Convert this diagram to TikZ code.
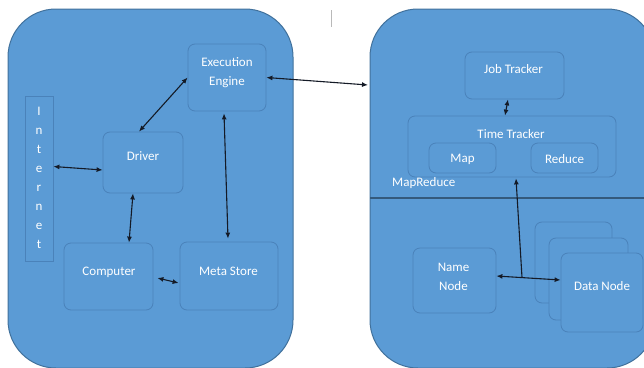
\documentclass[tikz,border=0pt]{standalone}
\usepackage{fontspec}
\setmainfont{Carlito}
\usetikzlibrary{arrows.meta,calc}
\definecolor{panelfill}{HTML}{5B9BD5}
\definecolor{paneledge}{HTML}{41719C}
\definecolor{boxedge}{HTML}{4A82BA}
\definecolor{wire}{HTML}{141A26}
\begin{document}
\begin{tikzpicture}[x=1pt,y=-1pt,
  panel/.style={draw=paneledge, line width=1pt, fill=panelfill, rounded corners=48pt,
    minimum width=285pt, minimum height=359pt, inner sep=0pt},
  box/.style={draw=boxedge, line width=0.8pt, fill=panelfill, rounded corners=7pt, inner sep=0pt},
  lbl/.style={text=white, font=\fontsize{13}{19}\selectfont, align=center, inner sep=0pt},
  dar/.style={draw=wire, line width=1.1pt, {Latex[length=6pt,width=5pt]}-{Latex[length=6pt,width=5pt]}},
  sar/.style={draw=wire, line width=1.1pt, -{Latex[length=6pt,width=5pt]}}]
\useasboundingbox (0,0) rectangle (644,367);
\clip (0,0) rectangle (644,367);

% the two large panels
\node[panel] (hive) at (150.5,188.5) {};
\node[panel] (hadoop) at (512.5,188.5) {};

% small cursor mark at the top
\draw[gray!55, line width=0.8pt] (331,10) -- (331,27);

% left panel: Hive components
\node[box, minimum width=78pt, minimum height=67pt] (exec) at (227,77.5) {};
\node[lbl] (exec-l) at (227,72.5) {Execution\\Engine};
\node[draw=boxedge, line width=0.8pt, fill=panelfill, minimum width=28pt, minimum height=165pt, inner sep=0pt] (internet) at (39,178.5) {};
\node[lbl] (internet-l) at (39,178) {I\\n\\t\\e\\r\\n\\e\\t};
\node[box, minimum width=80pt, minimum height=61pt] (driver) at (143,162.5) {};
\node[lbl] (driver-l) at (143,156) {Driver};
\node[box, minimum width=89pt, minimum height=67pt] (computer) at (108.5,276.5) {};
\node[lbl] (computer-l) at (109,272) {Computer};
\node[box, minimum width=98pt, minimum height=68pt] (meta) at (229,276) {};
\node[lbl] (meta-l) at (228.5,271) {Meta Store};

% right panel: MapReduce part
\node[box, minimum width=99pt, minimum height=47pt] (job) at (514.5,75.5) {};
\node[lbl] (job-l) at (513.5,69) {Job Tracker};
\node[box, minimum width=208pt, minimum height=61pt] (time) at (512,146.5) {};
\node[lbl] (time-l) at (511,134) {Time Tracker};
\node[box, minimum width=67pt, minimum height=30pt] (map) at (462.5,158) {};
\node[lbl] (map-l) at (462.5,159) {Map};
\node[box, minimum width=67pt, minimum height=30pt] (reduce) at (564.5,158) {};
\node[lbl] (reduce-l) at (564.5,159) {Reduce};
\node[lbl, anchor=west] (mr-l) at (392,183) {MapReduce};
\coordinate (split-w) at (370,198);
\coordinate (split-e) at (660,198);
\draw[draw=paneledge!80!black, line width=1.2pt] (split-w) -- (split-e);

% right panel: HDFS part
\node[box, minimum width=83pt, minimum height=65pt] (name) at (454.5,280.5) {};
\node[lbl] (name-l) at (453.5,276.5) {Name\\Node};
\node[box, minimum width=77pt, minimum height=81pt] (data3) at (573.5,262.5) {};
\node[box, minimum width=79pt, minimum height=82pt] (data2) at (588.5,279) {};
\node[box, minimum width=82pt, minimum height=79pt] (data1) at (602,292.5) {};
\node[lbl] (data-l) at (602,286) {Data Node};

% connectors
\coordinate (mr-in) at (368,85);
\draw[dar] ([xshift=-4pt]driver.north) -- (exec.west);
\draw[dar] ([yshift=12pt]internet.east) -- ([yshift=-7.5pt]driver.west);
\draw[dar] ([xshift=-10pt]driver.south) -- ([xshift=20.5pt]computer.north);
\draw[dar] ([xshift=-3pt,yshift=-2pt]exec.south) -- ([xshift=-1pt,yshift=3pt]meta.north);
\draw[dar] ([xshift=4pt,yshift=-1.5pt]computer.east) -- ([xshift=-1pt,yshift=-7pt]meta.west);
\draw[dar] (exec.east) -- (mr-in);
\draw[dar] ([xshift=-6.5pt]job.south) -- ([xshift=-7pt]time.north);
\draw[dar] ([yshift=4.5pt]name.east) -- ([yshift=12.5pt]data1.west);
\coordinate (hub) at (522,277.5);
\draw[sar] (hub) -- ([xshift=4pt,yshift=-1pt]time.south);
\end{tikzpicture}
\end{document}
